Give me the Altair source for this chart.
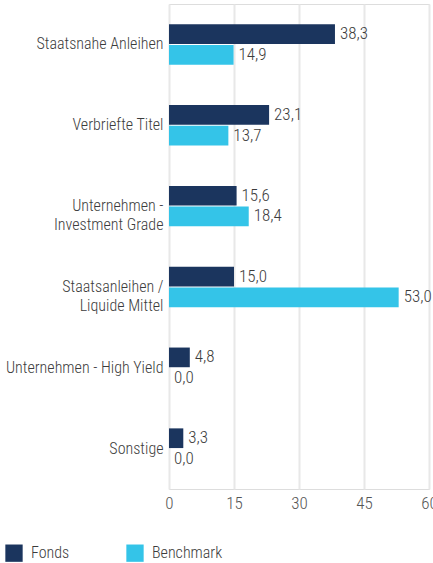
import altair as alt
import pandas as pd

categories = ["Staatsnahe Anleihen", "Verbriefte Titel", "Unternehmen -\nInvestment Grade",
              "Staatsanleihen /\nLiquide Mittel", "Unternehmen - High Yield", "Sonstige"]
fonds = [38.3, 23.1, 15.6, 15.0, 4.8, 3.3]
benchmark = [14.9, 13.7, 18.4, 53.0, 0.0, 0.0]
series = ["Fonds", "Benchmark"]
colors = ["#1b355e", "#34c4e8"]
x_ticks = [0, 15, 30, 45, 60]

rows = []
for c, f, b in zip(categories, fonds, benchmark):
    rows.append({"cat": c, "series": "Fonds", "value": f})
    rows.append({"cat": c, "series": "Benchmark", "value": b})
df = pd.DataFrame(rows)

FONT = "Roboto Condensed"

y = alt.Y("cat:N", sort=categories, title=None,
          scale=alt.Scale(paddingInner=0.5, paddingOuter=0.25),
          axis=alt.Axis(domain=False, ticks=False, labelPadding=6, labelFontSize=16,
                        labelColor="#3c3c3c", labelFont=FONT, labelFontWeight=300,
                        labelLineHeight=19,
                        labelExpr="split(datum.label, '\\n')", labelLimit=300))
yoff = alt.YOffset("series:N", sort=series, scale=alt.Scale(paddingInner=0.05))
x = alt.X("value:Q", title=None,
          scale=alt.Scale(domain=[0, 60], nice=False),
          axis=alt.Axis(values=x_ticks, domain=False, ticks=False, grid=True,
                        gridColor="#e8e8e8", gridWidth=2, labelFontSize=17,
                        labelColor="#555555", labelFont=FONT, labelFontWeight=300,
                        labelPadding=6, labelFlush=False))

color = alt.Color("series:N", sort=series,
                  scale=alt.Scale(domain=series, range=colors),
                  legend=alt.Legend(title=None, orient="none", legendX=-164, legendY=540,
                                    direction="horizontal", symbolType="square",
                                    symbolSize=300, symbolStrokeWidth=0, labelFontSize=16,
                                    labelFont=FONT, labelFontWeight=300,
                                    labelColor="#3c3c3c", labelOffset=8,
                                    columnPadding=56))

bars = alt.Chart(df).mark_bar().encode(y=y, yOffset=yoff, x=x, color=color)
labels = alt.Chart(df).transform_calculate(
    lab="replace(format(datum.value, '.1f'), '.', ',')"
).mark_text(align="left", baseline="middle", dx=5, fontSize=17, font=FONT, fontWeight=300,
            color="#3c3c3c").encode(y=alt.Y("cat:N", sort=categories), yOffset=yoff,
                                    x="value:Q", text="lab:N")

chart = (bars + labels).properties(
    width=260, height=485,
    autosize=alt.AutoSizeParams(type="none"),
    padding={"left": 169, "top": 4, "right": 4, "bottom": 74},
).configure_view(stroke=None).configure(font=FONT)

chart.save("out.html", embed_options={"renderer": "svg", "actions": False})
